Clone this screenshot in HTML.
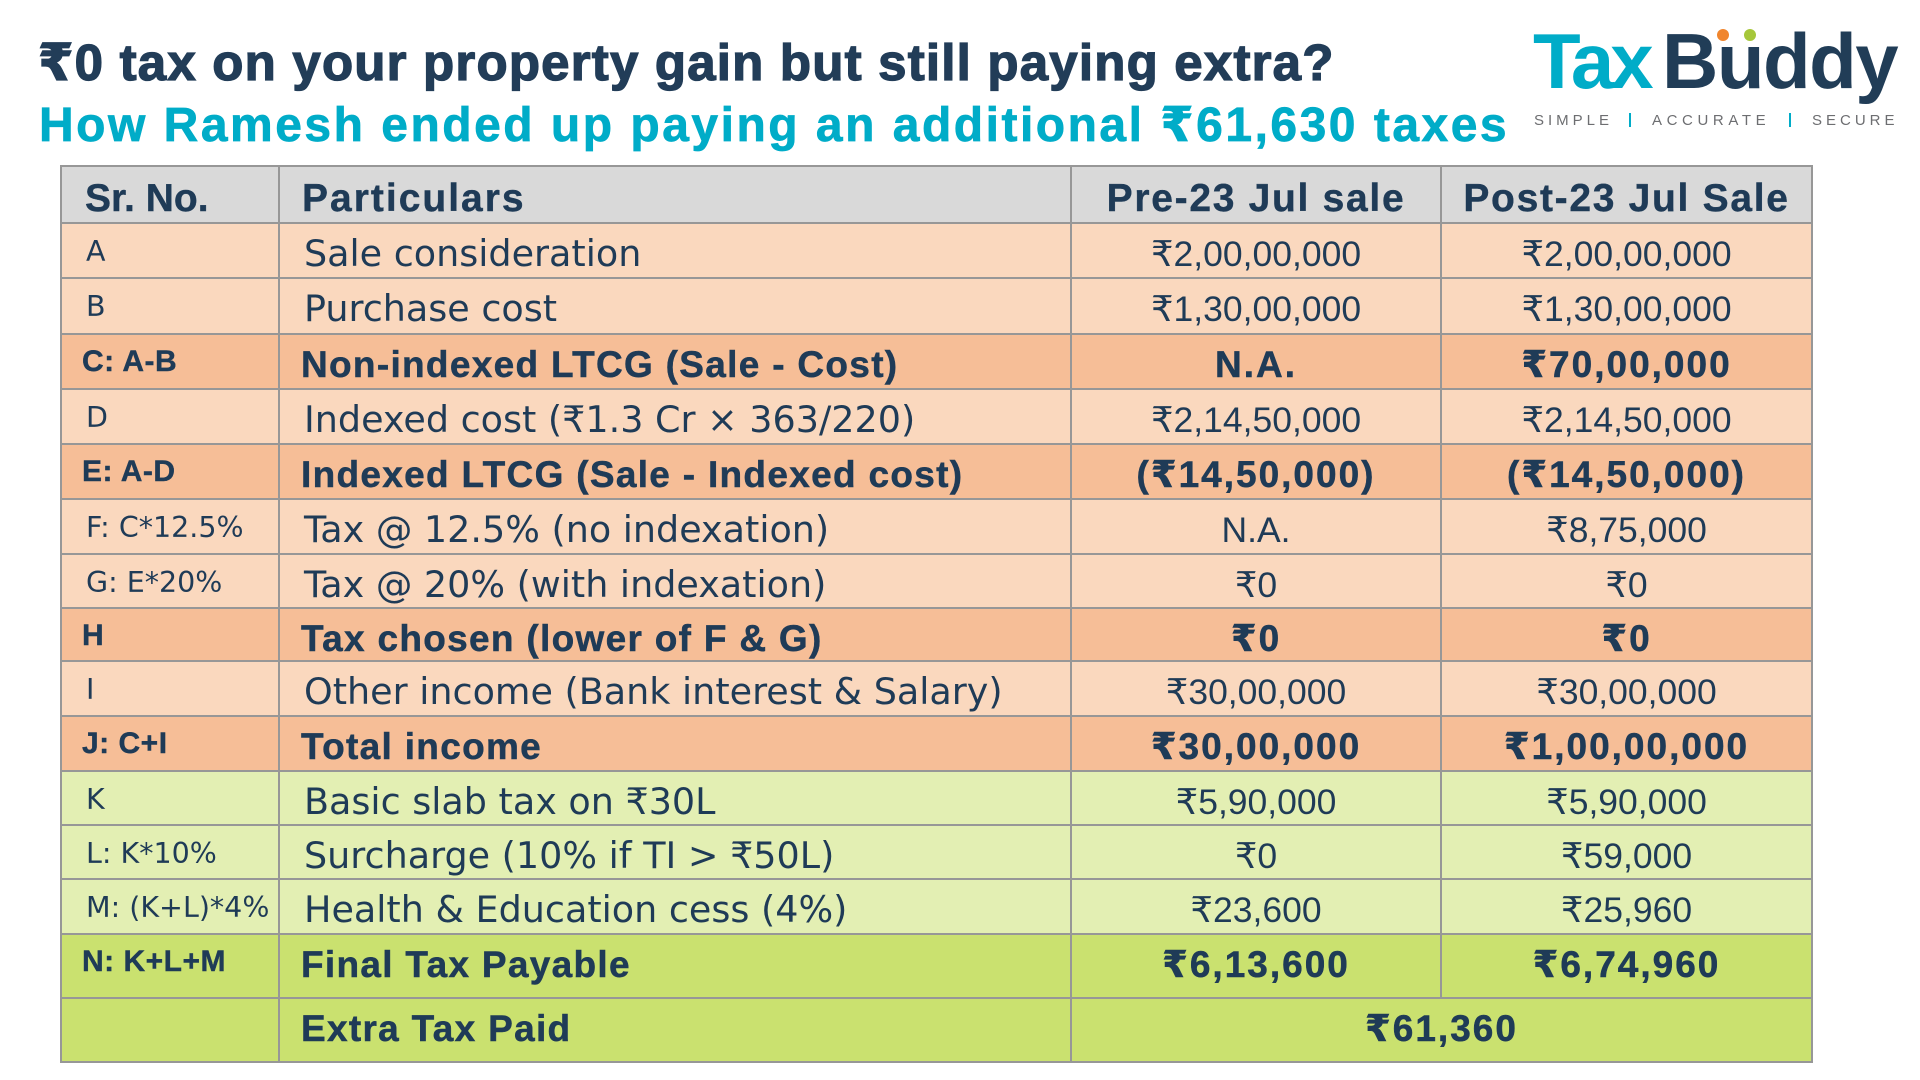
<!DOCTYPE html>
<html>
<head>
<meta charset="utf-8">
<style>
  html,body{margin:0;padding:0;}
  body{width:1920px;height:1080px;background:#ffffff;position:relative;overflow:hidden;}
  .abs{position:absolute;white-space:nowrap;}
  .title{left:38px;top:33px;height:60px;line-height:60px;font:bold 51px "Liberation Sans","DejaVu Sans",sans-serif;letter-spacing:1.2px;color:#223d58;-webkit-text-stroke:1.3px #223d58;}
  .sub{left:39px;top:97px;height:60px;line-height:60px;font:bold 48px "Liberation Sans","DejaVu Sans",sans-serif;letter-spacing:2.5px;color:#00acc8;-webkit-text-stroke:0.7px #00acc8;}
  .logo{top:16px;height:90px;line-height:90px;font:bold 78px "Liberation Sans","DejaVu Sans",sans-serif;}
  .tag{top:112px;height:16px;line-height:16px;font:15px "Liberation Sans","DejaVu Sans",sans-serif;color:#6d6e71;letter-spacing:4px;}
  .bar{position:absolute;width:2px;height:14px;top:113px;background:#00acc8;}
  .dot{position:absolute;width:12px;height:12px;border-radius:50%;}

  .r{position:absolute;left:61px;width:1751px;}
  .r span{position:absolute;height:50px;line-height:50px;white-space:nowrap;color:#1f3b57;}
  .sr{left:25px;top:4px;font:28.5px "DejaVu Sans","Liberation Sans",sans-serif;}
  .srb{left:21px;top:3px;font:bold 30px "Liberation Sans","DejaVu Sans",sans-serif;letter-spacing:.5px;-webkit-text-stroke:0.4px #1f3b57;}
  .p{left:243px;top:6px;font:36.5px "DejaVu Sans","Liberation Sans",sans-serif;}
  .pb{left:240px;top:6px;font:bold 37px "Liberation Sans","DejaVu Sans",sans-serif;letter-spacing:1.3px;-webkit-text-stroke:0.5px #1f3b57;}
  .c1{left:1010px;width:370px;text-align:center;top:6px;}
  .c2{left:1380px;width:371px;text-align:center;top:6px;}
  .cx{left:1010px;width:741px;text-align:center;top:6px;}
  .n{font:35.5px "Liberation Sans","DejaVu Sans",sans-serif;}
  .nb{font:bold 37px "Liberation Sans","DejaVu Sans",sans-serif;letter-spacing:2px;-webkit-text-stroke:0.5px #1f3b57;}
  .h{top:8px !important;font:bold 39px "Liberation Sans","DejaVu Sans",sans-serif;-webkit-text-stroke:0.4px #1f3b57;}
  .hl{position:absolute;left:60px;width:1753px;height:2px;background:#979797;}
  .vl{position:absolute;width:2px;background:#979797;}
</style>
</head>
<body>

<div class="abs title">₹0 tax on your property gain but still paying extra?</div>
<div class="abs sub">How Ramesh ended up paying an additional ₹61,630 taxes</div>

<!-- Logo -->
<div class="abs logo" style="left:1533px;color:#00acc8;letter-spacing:-4px;">Tax</div>
<div class="abs logo" style="left:1662px;color:#213d57;letter-spacing:-1.5px;">Buddy</div>
<div class="dot" style="left:1717px;top:29px;background:#f0852d;"></div>
<div class="dot" style="left:1744px;top:29px;background:#a6c73a;"></div>
<div class="abs tag" style="left:1534px;">SIMPLE</div>
<div class="bar" style="left:1629px;"></div>
<div class="abs tag" style="left:1652px;letter-spacing:4.6px;">ACCURATE</div>
<div class="bar" style="left:1789px;"></div>
<div class="abs tag" style="left:1812px;">SECURE</div>

<!-- Table rows -->
<div class="r" style="top:166px;height:57px;background:#d9d9d9;">
  <span class="h" style="left:24px;">Sr. No.</span>
  <span class="h" style="left:241px;letter-spacing:2px;">Particulars</span>
  <span class="h c1" style="letter-spacing:1.7px;">Pre-23 Jul sale</span>
  <span class="h c2" style="letter-spacing:1.7px;">Post-23 Jul Sale</span>
</div>

<div class="r" style="top:223px;height:55px;background:#fad8be;">
  <span class="sr">A</span><span class="p">Sale consideration</span>
  <span class="n c1">₹2,00,00,000</span><span class="n c2">₹2,00,00,000</span>
</div>
<div class="r" style="top:278px;height:56px;background:#fad8be;">
  <span class="sr">B</span><span class="p">Purchase cost</span>
  <span class="n c1">₹1,30,00,000</span><span class="n c2">₹1,30,00,000</span>
</div>
<div class="r" style="top:334px;height:55px;background:#f6be97;">
  <span class="srb">C: A-B</span><span class="pb">Non-indexed LTCG (Sale - Cost)</span>
  <span class="nb c1">N.A.</span><span class="nb c2">₹70,00,000</span>
</div>
<div class="r" style="top:389px;height:55px;background:#fad8be;">
  <span class="sr">D</span><span class="p">Indexed cost (₹1.3 Cr × 363/220)</span>
  <span class="n c1">₹2,14,50,000</span><span class="n c2">₹2,14,50,000</span>
</div>
<div class="r" style="top:444px;height:55px;background:#f6be97;">
  <span class="srb">E: A-D</span><span class="pb">Indexed LTCG (Sale - Indexed cost)</span>
  <span class="nb c1">(₹14,50,000)</span><span class="nb c2">(₹14,50,000)</span>
</div>
<div class="r" style="top:499px;height:55px;background:#fad8be;">
  <span class="sr">F: C*12.5%</span><span class="p">Tax @ 12.5% (no indexation)</span>
  <span class="n c1">N.A.</span><span class="n c2">₹8,75,000</span>
</div>
<div class="r" style="top:554px;height:54px;background:#fad8be;">
  <span class="sr">G: E*20%</span><span class="p">Tax @ 20% (with indexation)</span>
  <span class="n c1">₹0</span><span class="n c2">₹0</span>
</div>
<div class="r" style="top:608px;height:53px;background:#f6be97;">
  <span class="srb">H</span><span class="pb">Tax chosen (lower of F &amp; G)</span>
  <span class="nb c1">₹0</span><span class="nb c2">₹0</span>
</div>
<div class="r" style="top:661px;height:55px;background:#fad8be;">
  <span class="sr">I</span><span class="p">Other income (Bank interest &amp; Salary)</span>
  <span class="n c1">₹30,00,000</span><span class="n c2">₹30,00,000</span>
</div>
<div class="r" style="top:716px;height:55px;background:#f6be97;">
  <span class="srb">J: C+I</span><span class="pb">Total income</span>
  <span class="nb c1">₹30,00,000</span><span class="nb c2">₹1,00,00,000</span>
</div>
<div class="r" style="top:771px;height:54px;background:#e3efb3;">
  <span class="sr">K</span><span class="p">Basic slab tax on ₹30L</span>
  <span class="n c1">₹5,90,000</span><span class="n c2">₹5,90,000</span>
</div>
<div class="r" style="top:825px;height:54px;background:#e3efb3;">
  <span class="sr">L: K*10%</span><span class="p">Surcharge (10% if TI &gt; ₹50L)</span>
  <span class="n c1">₹0</span><span class="n c2">₹59,000</span>
</div>
<div class="r" style="top:879px;height:55px;background:#e3efb3;">
  <span class="sr">M: (K+L)*4%</span><span class="p">Health &amp; Education cess (4%)</span>
  <span class="n c1">₹23,600</span><span class="n c2">₹25,960</span>
</div>
<div class="r" style="top:934px;height:64px;background:#cae16f;">
  <span class="srb">N: K+L+M</span><span class="pb">Final Tax Payable</span>
  <span class="nb c1">₹6,13,600</span><span class="nb c2">₹6,74,960</span>
</div>
<div class="r" style="top:998px;height:64px;background:#cae16f;">
  <span class="pb">Extra Tax Paid</span>
  <span class="nb cx">₹61,360</span>
</div>

<!-- Horizontal lines -->
<div class="hl" style="top:165px;"></div>
<div class="hl" style="top:222px;"></div>
<div class="hl" style="top:277px;"></div>
<div class="hl" style="top:333px;"></div>
<div class="hl" style="top:388px;"></div>
<div class="hl" style="top:443px;"></div>
<div class="hl" style="top:498px;"></div>
<div class="hl" style="top:553px;"></div>
<div class="hl" style="top:607px;"></div>
<div class="hl" style="top:660px;"></div>
<div class="hl" style="top:715px;"></div>
<div class="hl" style="top:770px;"></div>
<div class="hl" style="top:824px;"></div>
<div class="hl" style="top:878px;"></div>
<div class="hl" style="top:933px;"></div>
<div class="hl" style="top:997px;"></div>
<div class="hl" style="top:1061px;"></div>

<!-- Vertical lines -->
<div class="vl" style="left:60px;top:165px;height:898px;"></div>
<div class="vl" style="left:278px;top:165px;height:898px;"></div>
<div class="vl" style="left:1070px;top:165px;height:898px;"></div>
<div class="vl" style="left:1440px;top:165px;height:834px;"></div>
<div class="vl" style="left:1811px;top:165px;height:898px;"></div>

</body>
</html>
